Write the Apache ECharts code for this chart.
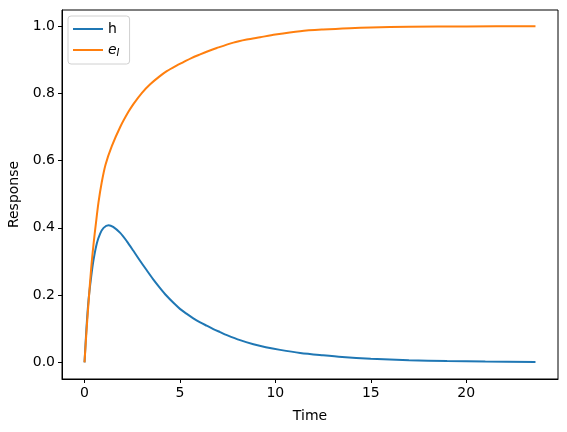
<!DOCTYPE html>
<html><head><meta charset="utf-8">
<script src="https://cdn.jsdelivr.net/npm/echarts@6/dist/echarts.min.js"></script>
<style>html,body{margin:0;padding:0;background:#fff}#c{width:567px;height:432px}</style>
</head><body><div id="c"></div>
<script>
var hT = [0,0.1,0.21,0.35,0.47,0.65,0.82,1.0,1.26,1.5,1.87,2.22,2.57,2.9,3.27,3.6,3.96,4.3,4.66,5.0,5.36,5.7,6.06,6.4,6.75,7.1,7.46,8.15,8.85,9.5,10.25,11.3,12.5,13.5,15,17,19,21,23.63];
var hV = [0,0.1,0.185,0.255,0.304,0.355,0.383,0.400,0.408,0.403,0.385,0.360,0.331,0.303,0.273,0.247,0.221,0.198,0.177,0.159,0.144,0.131,0.119,0.109,0.099,0.090,0.081,0.066,0.054,0.045,0.037,0.028,0.021,0.016,0.011,0.0065,0.0038,0.0022,0.0012];
var eT = [0,0.1,0.2,0.35,0.47,0.6,0.73,0.9,1.1,1.43,1.87,2.3,2.57,3.0,3.44,3.9,4.31,4.8,5.18,5.6,6.06,6.5,6.93,7.8,8.5,9.2,10,11.3,12.5,13.9,15,17,20,23.63];
var eV = [0,0.09,0.17,0.28,0.35,0.415,0.475,0.535,0.588,0.643,0.700,0.745,0.769,0.801,0.827,0.849,0.866,0.882,0.893,0.905,0.916,0.926,0.935,0.951,0.960,0.967,0.975,0.985,0.990,0.994,0.996,0.998,0.999,1.0];
var xTicks = [0,5,10,15,20];
var yTicks = [0,0.2,0.4,0.6,0.8,1.0];

function pairs(t,v){return t.map(function(x,i){return [x,v[i]];});}
var chart = echarts.init(document.getElementById('c'));
var font = 'DejaVu Sans';
chart.setOption({
  animation:false,
  backgroundColor:'#fff',
  grid:{left:62,right:9,top:10,bottom:53,outerBoundsMode:'none',containLabel:false,show:true,borderColor:'#000',borderWidth:1,backgroundColor:'transparent'},
  legend:{
    left:68,top:16,orient:'vertical',
    backgroundColor:'rgba(255,255,255,0.8)',
    borderColor:'#d0d0d0',borderWidth:1,borderRadius:3,
    padding:[6,10,6,5],itemGap:7,
    itemWidth:30,itemHeight:2,
    icon:'rect',
    textStyle:{fontFamily:font,fontSize:14,color:'#000',
      rich:{e:{fontFamily:font,fontSize:14,fontStyle:'italic',color:'#000'},
            s:{fontFamily:font,fontSize:10,fontStyle:'italic',color:'#000',verticalAlign:'bottom',padding:[6,0,0,0]}}},
    formatter:function(n){return n==='e_I'?'{e|e}{s|I}':n;},
    data:['h','e_I']
  },
  xAxis:{type:'value',min:-1.18,max:24.81,
    name:'Time',nameLocation:'middle',nameGap:30,
    nameTextStyle:{fontFamily:font,fontSize:14,color:'#000'},
    axisLine:{show:true,onZero:false,lineStyle:{color:'#000',width:1}},
    splitLine:{show:false},
    axisTick:{show:true,length:4,lineStyle:{color:'#000'},customValues:xTicks},
    axisLabel:{fontFamily:font,fontSize:14,color:'#000',margin:7,customValues:xTicks,formatter:function(v){return String(v);}}
  },
  yAxis:{type:'value',min:-0.0496,max:1.048,
    name:'Response',nameLocation:'middle',nameGap:38,
    nameTextStyle:{fontFamily:font,fontSize:14,color:'#000'},
    axisLine:{show:true,onZero:false,lineStyle:{color:'#000',width:1}},
    splitLine:{show:false},
    axisTick:{show:true,length:4,lineStyle:{color:'#000'},customValues:yTicks},
    axisLabel:{fontFamily:font,fontSize:14,color:'#000',margin:7,customValues:yTicks,formatter:function(v){return v.toFixed(1);}}
  },
  series:[
    {name:'h',type:'line',data:pairs(hT,hV),showSymbol:false,smooth:0.3,
      lineStyle:{color:'#1f77b4',width:2},itemStyle:{color:'#1f77b4'}},
    {name:'e_I',type:'line',data:pairs(eT,eV),showSymbol:false,smooth:0.3,
      lineStyle:{color:'#ff7f0e',width:2},itemStyle:{color:'#ff7f0e'}}
  ]
});
</script></body></html>
